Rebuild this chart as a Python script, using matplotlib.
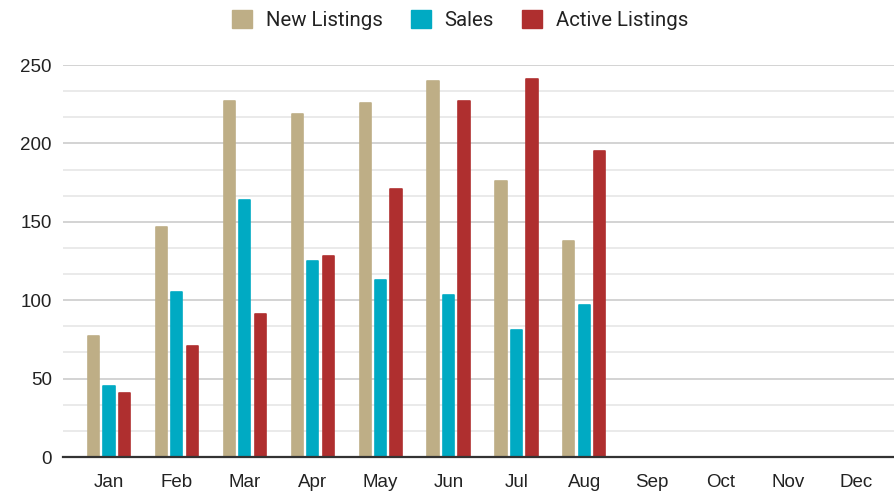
import numpy as np
import matplotlib
matplotlib.use("Agg")
import matplotlib.pyplot as plt
from matplotlib.patches import Patch
from matplotlib.ticker import MultipleLocator

plt.rcParams['font.family'] = ['Liberation Sans', 'DejaVu Sans']

months = ["Jan", "Feb", "Mar", "Apr", "May", "Jun", "Jul", "Aug", "Sep", "Oct", "Nov", "Dec"]
new_listings = [77, 147, 227, 219, 226, 240, 176, 138]
sales = [45, 105, 164, 125, 113, 103, 81, 97]
active_listings = [41, 71, 91, 128, 171, 227, 241, 195]

series = [
    ("New Listings", new_listings, "#BEAE86"),
    ("Sales", sales, "#00AAC3"),
    ("Active Listings", active_listings, "#AF2F2F"),
]

fig = plt.figure(figsize=(8.95, 4.91), dpi=100)
ax = fig.add_axes([63 / 895, 1 - 457 / 491, (895 - 63) / 895, (457 - 65) / 491])

x = np.arange(len(months))
width = 0.165
offsets = [-0.228, 0, 0.228]
for (name, vals, color), off in zip(series, offsets):
    xs = x[:len(vals)] + off
    ax.bar(xs, vals, width=width, color=color, edgecolor=color, linewidth=1.2,
           joinstyle='round', zorder=3)

ax.set_xlim(-0.677, 11.575)
ax.set_ylim(0, 250)
ax.set_xticks(x)
ax.set_xticklabels(months)
ax.yaxis.set_major_locator(MultipleLocator(50))
ax.yaxis.set_minor_locator(MultipleLocator(50 / 3))
ax.grid(axis='y', which='major', color='#CCCCCC', linewidth=1.2, zorder=0)
ax.grid(axis='y', which='minor', color='#E6E6E6', linewidth=1.2, zorder=0)
ax.tick_params(axis='both', which='both', length=0, labelsize=13.5, colors='#222222')
ax.tick_params(axis='x', pad=12)
ax.tick_params(axis='y', pad=8)
for s in ["top", "right", "left"]:
    ax.spines[s].set_visible(False)
ax.spines["bottom"].set_color("#333333")
ax.spines["bottom"].set_linewidth(1.6)
ax.spines["bottom"].set_zorder(4)

# legend uses Roboto like the original
handles = [Patch(facecolor=c, edgecolor=c, label=n) for n, _, c in series]
fig.legend(handles=handles, loc='center', bbox_to_anchor=(460 / 895, 1 - 20 / 491),
           ncol=3, frameon=False, prop={'family': ['Roboto', 'DejaVu Sans'], 'size': 14.7},
           handlelength=0.98, handleheight=0.98, handletextpad=0.69, columnspacing=1.37,
           labelcolor='#222222')

fig.savefig("out.png", dpi=100)
